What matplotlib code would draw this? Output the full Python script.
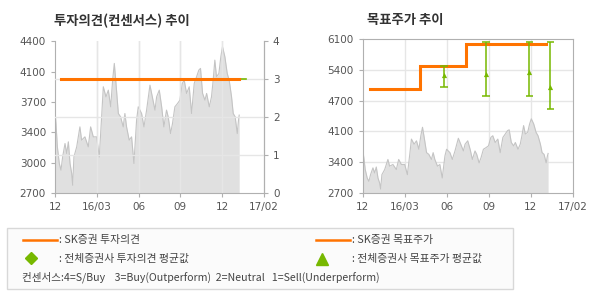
import matplotlib.pyplot as plt
from matplotlib.patches import Rectangle
from matplotlib.lines import Line2D

plt.rcParams['font.family'] = ['Noto Sans CJK KR', 'DejaVu Sans']

# x positions in months from Dec 2015 (ticks every 3 months)
x_ticks = [0, 3, 6, 9, 12, 15]
x_labels = ['12', '16/03', '06', '09', '12', '17/02']

# share price (approx)
price_x = [0.00, 0.07, 0.17, 0.31, 0.43, 0.55, 0.72, 0.84, 0.96, 1.08, 1.20, 1.27, 1.36,
           1.56, 1.79, 1.91, 2.15, 2.39, 2.56, 2.75, 2.99, 3.18, 3.35, 3.47, 3.66, 3.83,
           4.00, 4.14, 4.26, 4.38, 4.55, 4.71, 4.90, 5.02, 5.14, 5.33, 5.50, 5.67, 5.86,
           5.98, 6.22, 6.39, 6.58, 6.82, 6.99, 7.18, 7.30, 7.49, 7.66, 7.82, 8.01, 8.13,
           8.30, 8.44, 8.61, 8.80, 8.97, 9.14, 9.28, 9.45, 9.64, 9.81, 10.00, 10.17,
           10.33, 10.45, 10.60, 10.77, 10.89, 11.08, 11.24, 11.36, 11.48, 11.60, 11.77,
           11.91, 12.03, 12.20, 12.37, 12.51, 12.68, 12.80, 12.94, 13.09, 13.18, 13.23]
price = [3629, 3480, 3217, 3030, 2955, 3104, 3254, 3142, 3273, 3030, 2917, 2786, 3104,
         3217, 3441, 3292, 3329, 3217, 3441, 3329, 3329, 3104, 3554, 3891, 3778, 3853,
         3666, 3965, 4153, 3928, 3591, 3554, 3441, 3591, 3441, 3292, 3329, 3030, 3516,
         3666, 3591, 3441, 3629, 3909, 3778, 3629, 3778, 3853, 3666, 3441, 3629, 3554,
         3366, 3479, 3666, 3703, 3741, 3928, 3965, 3816, 3891, 3591, 3928, 4003,
         4078, 4097, 3816, 3741, 3816, 3666, 3778, 3965, 4190, 4003, 4040,
         4228, 4340, 4228, 4040, 3965, 3778, 3591, 3554, 3366, 3516, 3573]

# SK securities opinion (3 = Buy) and consensus average
opinion_x = [0.43, 13.2]
opinion = [3, 3]
cons_op_x = [13.2, 13.75]
cons_op = [3, 3]

# SK securities target price (step line)
target_x = [0.5, 4.1, 4.1, 7.4, 7.4, 13.1]
target = [5000, 5000, 5500, 5500, 6000, 6000]

# consensus target price: position, mean, low, high
cons_x = [5.8, 8.8, 11.9, 13.4]
cons_mean = [5300, 5330, 5370, 5040]
cons_low = [5040, 4840, 4840, 4560]
cons_high = [5520, 6050, 6050, 6050]

left_ticks = ['2700', '3000', '3400', '3700', '4100', '4400']
right_ticks = ['2700', '3400', '4100', '4700', '5400', '6100']

orange = '#ff7300'
green = '#77b800'
grid_c = '#e6e6e6'
spine_c = '#b0b0b0'
txt_c = '#555555'

fig = plt.figure(figsize=(5.9, 3.0), dpi=100)


def style(ax, top=False):
    for s in ['left', 'right', 'bottom', 'top']:
        ax.spines[s].set_color(spine_c)
    ax.spines['top'].set_visible(top)
    ax.tick_params(colors=spine_c, labelcolor=txt_c, labelsize=7.5, length=3, width=0.8)
    ax.set_xlim(0, 15)
    ax.set_xticks(x_ticks)
    ax.set_xticklabels(x_labels, family='DejaVu Sans')
    for xv in x_ticks[1:-1]:
        ax.axvline(xv, color=grid_c, lw=1, zorder=0)


# left chart: investment opinion
ax1 = fig.add_axes([0.0932, 0.357, 0.354, 0.505])
style(ax1)
ax1.fill_between(price_x, 2700, price, color='#e0e0e0', lw=0, zorder=1)
ax1.plot(price_x, price, color='#c4c4c4', lw=0.8, zorder=2)
ax1.set_ylim(2700, 4400)
lt = [2700 + i * 340 for i in range(6)]
ax1.set_yticks(lt)
ax1.set_yticklabels(left_ticks, family='DejaVu Sans')
ax1.set_title('투자의견(컨센서스) 추이', loc='left', fontsize=9.6, fontweight='bold',
              color='#333333', pad=12, x=-0.005)

ax1b = ax1.twinx()
style(ax1b)
ax1b.set_ylim(0, 4)
ax1b.set_yticks([0, 1, 2, 3, 4])
ax1b.set_yticklabels(['0', '1', '2', '3', '4'], family='DejaVu Sans')
for yv in [1, 2, 3]:
    ax1b.axhline(yv, color=grid_c, lw=1, zorder=0)
ax1b.plot(cons_op_x, cons_op, color=green, lw=1.2, zorder=3)
ax1b.plot(opinion_x, opinion, color=orange, lw=2.2, zorder=4)
ax1.set_zorder(0)
ax1b.patch.set_visible(False)
ax1b.spines['left'].set_visible(False)
ax1b.spines['bottom'].set_visible(False)
ax1b.tick_params(axis='x', bottom=False, labelbottom=False)

# right chart: target price
ax2 = fig.add_axes([0.615, 0.357, 0.356, 0.512])
style(ax2, top=True)
ax2.set_ylim(2700, 6100)
rt = [2700 + i * 680 for i in range(6)]
ax2.set_yticks(rt)
ax2.set_yticklabels(right_ticks, family='DejaVu Sans')
for yv in rt[1:-1]:
    ax2.axhline(yv, color=grid_c, lw=1, zorder=0)
ax2.fill_between(price_x, 2700, price, color='#e0e0e0', lw=0, zorder=1)
ax2.plot(price_x, price, color='#c4c4c4', lw=0.8, zorder=2)
ax2.plot(target_x, target, color=orange, lw=2.2, zorder=3, solid_joinstyle='miter')
ax2.vlines(cons_x, cons_low, cons_high, color=green, lw=1.1, zorder=4)
ax2.hlines(cons_low + cons_high, [v - 0.28 for v in cons_x] * 2,
           [v + 0.28 for v in cons_x] * 2, color=green, lw=1.1, zorder=4)
ax2.scatter(cons_x, cons_mean, marker='^', s=14, color=green, zorder=5, lw=0)
ax2.set_title('목표주가 추이', loc='left', fontsize=9.6, fontweight='bold',
              color='#333333', pad=11, x=0.02)

# legend box
fig.patches.append(Rectangle((7 / 590, 1 - 289 / 300), 506 / 590, 61 / 300,
                             transform=fig.transFigure, facecolor='#fbfbfb',
                             edgecolor='#d8d8d8', lw=1))


def fx(px):
    return px / 590


def fy(py):
    return 1 - py / 300


fig.lines.append(Line2D([fx(23), fx(57)], [fy(240), fy(240)], color=orange, lw=1.8,
                        transform=fig.transFigure))
fig.lines.append(Line2D([fx(316), fx(350)], [fy(240), fy(240)], color=orange, lw=1.8,
                        transform=fig.transFigure))
fig.lines.append(Line2D([fx(31)], [fy(258)], marker='D', ms=6.5, color=green, lw=0,
                        transform=fig.transFigure))
fig.lines.append(Line2D([fx(322)], [fy(259)], marker='^', ms=8, color=green, lw=0,
                        transform=fig.transFigure))

lg = dict(fontsize=7.8, color='#444444', va='center', ha='left')
fig.text(fx(59), fy(240), ': SK증권 투자의견', **lg)
fig.text(fx(352), fy(240), ': SK증권 목표주가', **lg)
fig.text(fx(59), fy(259), ': 전체증권사 투자의견 평균값', **lg)
fig.text(fx(352), fy(259), ': 전체증권사 목표주가 평균값', **lg)
fig.text(fx(22), fy(277), '컨센서스:4=S/Buy    3=Buy(Outperform)  2=Neutral   1=Sell(Underperform)',
         fontsize=7.6, color='#444444', va='center', ha='left')

fig.savefig('out.png', dpi=100)
